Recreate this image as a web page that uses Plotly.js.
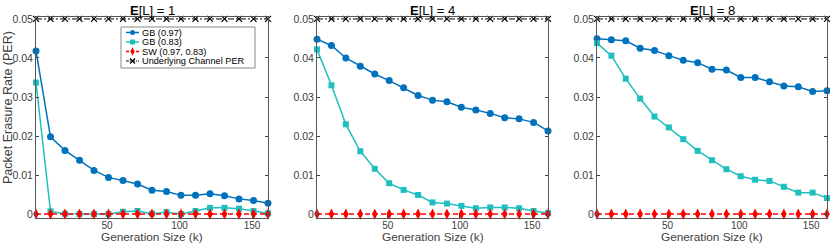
<!DOCTYPE html>
<html>
<head>
<meta charset="utf-8">
<script src="https://cdn.plot.ly/plotly-3.0.1.min.js"></script>
<style>body{margin:0;padding:0;background:#fff}#chart{width:830px;height:245px}</style>
</head>
<body>
<div id="chart"></div>
<script>
// Generation sizes (k)
const genSize = [1, 11, 21, 31, 41, 51, 61, 71, 81, 91, 101, 111, 121, 131, 141, 151, 161];

// Panel titles
const panelTitles = ["<b>E</b>[L] = 1", "<b>E</b>[L] = 4", "<b>E</b>[L] = 8"];
const xTitle = "Generation Size (k)";
const yTitle = "Packet Erasure Rate (PER)";

// Series names
const seriesNames = ["GB (0.97)", "GB (0.83)", "SW (0.97, 0.83)", "Underlying Channel PER"];

// E[L] = 1
const gb97_L1 = [0.0418, 0.0198, 0.0163, 0.0138, 0.0112, 0.0094, 0.0086, 0.0077, 0.0061, 0.0058, 0.0048, 0.0048, 0.0052, 0.0047, 0.0039, 0.0035, 0.0028];
const gb83_L1 = [0.0337, 0.0007, 0.0001, 0.0000, 0.0000, 0.0000, 0.0006, 0.0008, 0.0001, 0.0005, 0.0000, 0.0008, 0.0016, 0.0016, 0.0014, 0.0008, 0.0002];
const sw_L1   = [0, 0, 0, 0, 0, 0, 0, 0, 0, 0, 0, 0, 0, 0, 0, 0, 0];
const ch_L1   = [0.05, 0.05, 0.05, 0.05, 0.05, 0.05, 0.05, 0.05, 0.05, 0.05, 0.05, 0.05, 0.05, 0.05, 0.05, 0.05, 0.05];

// E[L] = 4
const gb97_L4 = [0.0448, 0.0432, 0.0400, 0.0379, 0.0359, 0.0342, 0.0324, 0.0304, 0.0292, 0.0288, 0.0274, 0.0267, 0.0258, 0.0247, 0.0244, 0.0235, 0.0213];
const gb83_L4 = [0.0422, 0.0330, 0.0230, 0.0161, 0.0116, 0.0079, 0.0062, 0.0049, 0.0030, 0.0027, 0.0021, 0.0015, 0.0017, 0.0017, 0.0015, 0.0008, 0.0003];
const sw_L4   = [0, 0, 0, 0, 0, 0, 0, 0, 0, 0, 0, 0, 0, 0, 0, 0, 0];
const ch_L4   = [0.05, 0.05, 0.05, 0.05, 0.05, 0.05, 0.05, 0.05, 0.05, 0.05, 0.05, 0.05, 0.05, 0.05, 0.05, 0.05, 0.05];

// E[L] = 8
const gb97_L8 = [0.0449, 0.0447, 0.0444, 0.0425, 0.0419, 0.0406, 0.0394, 0.0388, 0.0371, 0.0369, 0.0350, 0.0350, 0.0339, 0.0328, 0.0326, 0.0314, 0.0316];
const gb83_L8 = [0.0438, 0.0406, 0.0347, 0.0296, 0.0250, 0.0222, 0.0192, 0.0162, 0.0138, 0.0115, 0.0097, 0.0088, 0.0085, 0.0070, 0.0055, 0.0055, 0.0041];
const sw_L8   = [0, 0, 0, 0, 0, 0, 0, 0, 0, 0, 0, 0, 0, 0, 0, 0, 0];
const ch_L8   = [0.05, 0.05, 0.05, 0.05, 0.05, 0.05, 0.05, 0.05, 0.05, 0.05, 0.05, 0.05, 0.05, 0.05, 0.05, 0.05, 0.05];

const xTickVals = [50, 100, 150];
const yTickVals = [0, 0.01, 0.02, 0.03, 0.04, 0.05];
const yTickText = ["0", "0.01", "0.02", "0.03", "0.04", "0.05"];

const panels = [
  [gb97_L1, gb83_L1, sw_L1, ch_L1],
  [gb97_L4, gb83_L4, sw_L4, ch_L4],
  [gb97_L8, gb83_L8, sw_L8, ch_L8]
];

const W = 830, H = 245;
const xDomPx = [[36, 268], [317, 548], [597, 827]];
const yDom = [(H - 218) / H, (H - 17) / H];

const styles = [
  {line: {color: '#0072BD', width: 1.5}, marker: {symbol: 'circle', size: 7, color: '#0072BD'}},
  {line: {color: '#1FBFBF', width: 1.5}, marker: {symbol: 'square', size: 6, color: '#1FBFBF'}},
  {line: {color: '#FF0000', width: 1.5, dash: '5px,3px'}, marker: {symbol: 'diamond-tall', size: 8, color: '#FF0000'}},
  {line: {color: '#000000', width: 1, dash: '6px,2px,2px,2px'}, marker: {symbol: 'x-thin', size: 6, color: '#000000', line: {color: '#000000', width: 1.2}}}
];
const legMarkerSize = [5, 5, 6, 5];

const data = [];
panels.forEach((series, p) => {
  const sfx = p === 0 ? '' : String(p + 1);
  series.forEach((vals, s) => {
    data.push({
      x: genSize, y: vals, type: 'scatter', mode: 'lines+markers',
      name: seriesNames[s],
      xaxis: 'x' + sfx, yaxis: 'y' + sfx,
      line: styles[s].line, marker: styles[s].marker,
      showlegend: false,
      cliponaxis: false
    });
  });
});

const fontFam = 'Liberation Sans, Arial, sans-serif';
const layout = {
  width: W, height: H,
  margin: {l: 0, r: 0, t: 0, b: 0},
  paper_bgcolor: '#fff', plot_bgcolor: 'rgba(0,0,0,0)',
  font: {family: fontFam, size: 10.5, color: '#404040'},
  showlegend: false,
  annotations: [],
  shapes: []
};

panels.forEach((_, p) => {
  const sfx = p === 0 ? '' : String(p + 1);
  const d = [xDomPx[p][0] / W, xDomPx[p][1] / W];
  layout['xaxis' + sfx] = {
    domain: d, anchor: 'y' + sfx, range: [1, 161],
    tickvals: xTickVals, ticks: 'inside', ticklen: 3, tickcolor: '#444',
    showline: true, linecolor: '#555', linewidth: 1, mirror: 'ticks',
    showgrid: false, zeroline: false, ticklabelstandoff: -2,
    tickfont: {size: 10, color: '#404040'}
  };
  layout['yaxis' + sfx] = {
    domain: yDom, anchor: 'x' + sfx, range: [-0.001, 0.0505],
    tickvals: yTickVals, ticktext: yTickText, ticks: 'inside', ticklen: 3, tickcolor: '#444',
    showline: true, linecolor: '#555', linewidth: 1, mirror: 'ticks',
    showgrid: false, zeroline: false,
    tickfont: {size: 10.5, color: '#404040'}
  };
  layout.annotations.push({
    text: panelTitles[p], xref: 'paper', yref: 'paper',
    x: (d[0] + d[1]) / 2, y: 1 - 10 / H, xanchor: 'center', yanchor: 'middle',
    showarrow: false, font: {size: 13, color: '#000', family: fontFam}
  });
  layout.annotations.push({
    text: xTitle, xref: 'paper', yref: 'paper',
    x: (d[0] + d[1]) / 2, y: 0, xanchor: 'center', yanchor: 'bottom', borderpad: 0,
    showarrow: false, font: {size: 11.8, color: '#404040', family: fontFam}
  });
});
layout.annotations.push({
  text: yTitle, xref: 'paper', yref: 'paper', textangle: -90,
  x: 8 / W, y: 1 - 108 / H, xanchor: 'center', yanchor: 'middle',
  showarrow: false, font: {size: 12.5, color: '#404040', family: fontFam}
});

// ---- Legend (drawn in an overlay pixel-space axis) ----
const legBox = {x0: 121, x1: 255, y0: 27, y1: 68};
const legRows = [32.5, 42, 51.5, 61];
const legLineX = [126, 139];
const legTextX = 141;
layout.xaxis4 = {domain: [0, 1], range: [0, W], visible: false, fixedrange: true, anchor: 'y4'};
layout.yaxis4 = {domain: [0, 1], range: [H, 0], visible: false, fixedrange: true, anchor: 'x4'};
layout.shapes.push({
  type: 'rect', xref: 'x4', yref: 'y4', x0: legBox.x0, x1: legBox.x1, y0: legBox.y0, y1: legBox.y1,
  fillcolor: '#fff', line: {color: '#888', width: 1}, layer: 'below'
});
seriesNames.forEach((nm, s) => {
  const yy = legRows[s];
  data.push({
    x: [legLineX[0], legLineX[1]], y: [yy, yy],
    type: 'scatter', mode: 'lines', xaxis: 'x4', yaxis: 'y4', showlegend: false,
    line: Object.assign({}, styles[s].line, {dash: s === 3 ? '3px,1px,1px,1px' : (s === 2 ? '3px,2px' : 'solid')}),
    hoverinfo: 'skip'
  });
  data.push({
    x: [(legLineX[0] + legLineX[1]) / 2], y: [yy],
    type: 'scatter', mode: 'markers', xaxis: 'x4', yaxis: 'y4', showlegend: false,
    marker: Object.assign({}, styles[s].marker, {size: legMarkerSize[s]}), hoverinfo: 'skip', cliponaxis: false
  });
  layout.annotations.push({
    text: nm, xref: 'x4', yref: 'y4', x: legTextX, y: yy, xanchor: 'left', yanchor: 'middle',
    borderpad: 0, showarrow: false, font: {size: 9.2, color: '#000', family: fontFam}
  });
});

Plotly.newPlot('chart', data, layout, {staticPlot: true, displayModeBar: false});
</script>
</body>
</html>
